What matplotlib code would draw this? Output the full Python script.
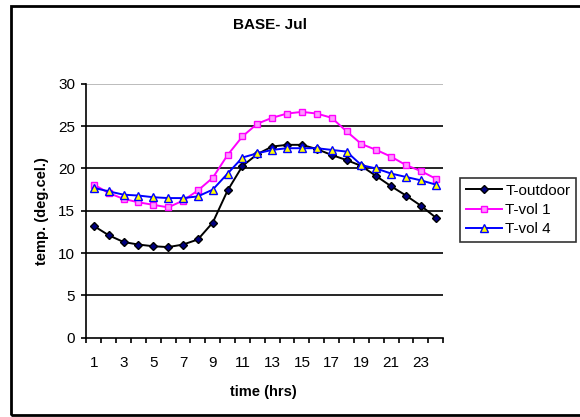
import matplotlib.pyplot as plt
from matplotlib.patches import Rectangle

plt.rcParams['font.family'] = ['Liberation Sans', 'DejaVu Sans']

hours = list(range(1, 25))
t_outdoor = [13.2, 12.1, 11.3, 11.0, 10.8, 10.7, 11.0, 11.6, 13.6, 17.4, 20.3, 21.7,
             22.6, 22.8, 22.8, 22.3, 21.6, 21.0, 20.3, 19.1, 17.9, 16.8, 15.6, 14.2]
t_vol1 = [18.1, 17.1, 16.4, 16.0, 15.7, 15.4, 16.2, 17.4, 18.9, 21.6, 23.8, 25.3,
          26.0, 26.5, 26.7, 26.5, 26.0, 24.4, 22.9, 22.2, 21.4, 20.4, 19.7, 18.8]
t_vol4 = [17.7, 17.3, 16.9, 16.8, 16.6, 16.5, 16.5, 16.7, 17.5, 19.4, 21.3, 21.8,
          22.2, 22.4, 22.4, 22.4, 22.2, 22.0, 20.4, 20.0, 19.4, 19.0, 18.6, 18.1]
x_labels = [str(h) for h in range(1, 25, 2)]

fig = plt.figure(figsize=(5.8, 4.17), dpi=100)
ax = fig.add_axes([0.149, 0.1906, 0.615, 0.608])

ax.plot(hours, t_outdoor, color='black', lw=1.4, marker='D', ms=4.5,
        mfc='#000080', mec='black', label='T-outdoor')
ax.plot(hours, t_vol1, color='#ff00ff', lw=1.4, marker='s', ms=5,
        mfc='#ff99ff', mec='#ff00ff', label='T-vol 1')
ax.plot(hours, t_vol4, color='#0000ff', lw=1.4, marker='^', ms=6,
        mfc='#ffff00', mec='#0000ff', label='T-vol 4')

ax.set_xlim(0.5, 24.5)
ax.set_ylim(0, 30)
ax.set_yticks(range(0, 31, 5))
ax.set_xticks(range(1, 25, 2))
ax.set_xticklabels(x_labels)
ax.set_xticks([h - 0.5 for h in range(1, 26)], minor=True)

for y in range(5, 30, 5):
    ax.axhline(y, color='black', lw=1.2, zorder=0)
ax.axhline(30, color='#b0b0b0', lw=1.2, zorder=0)

ax.spines['top'].set_visible(False)
ax.spines['right'].set_visible(False)
ax.spines['left'].set_linewidth(1.2)
ax.spines['bottom'].set_linewidth(1.2)

ax.tick_params(axis='x', which='major', length=0, pad=13.5, labelsize=11)
ax.tick_params(axis='x', which='minor', length=3.5, width=1.2, direction='out')
ax.tick_params(axis='y', length=3.7, width=1.2, pad=4.5, labelsize=11)

ax.set_xlabel('time (hrs)', fontsize=10.5, fontweight='bold')
ax.xaxis.set_label_coords(0.497, -0.187)
ax.set_ylabel('temp. (deg.cel.)', fontsize=10.5, fontweight='bold')
ax.yaxis.set_label_coords(-0.104, 0.5)

fig.text(0.465, 0.94, 'BASE- Jul', ha='center', va='center',
         fontsize=11, fontweight='bold')

leg = ax.legend(loc='center', bbox_to_anchor=(0.893, 0.4964),
                bbox_transform=fig.transFigure, fontsize=11, frameon=True,
                fancybox=False, handlelength=2.4, handletextpad=0.2,
                borderpad=0.35, labelspacing=0.35, borderaxespad=0)
leg.get_frame().set_edgecolor('black')
leg.get_frame().set_linewidth(1.2)

fig.patches.append(Rectangle((0.019, 0.005), 1.2, 0.981, transform=fig.transFigure,
                             fill=False, edgecolor='black', lw=2, clip_on=False))

fig.savefig('out.png', dpi=100)
